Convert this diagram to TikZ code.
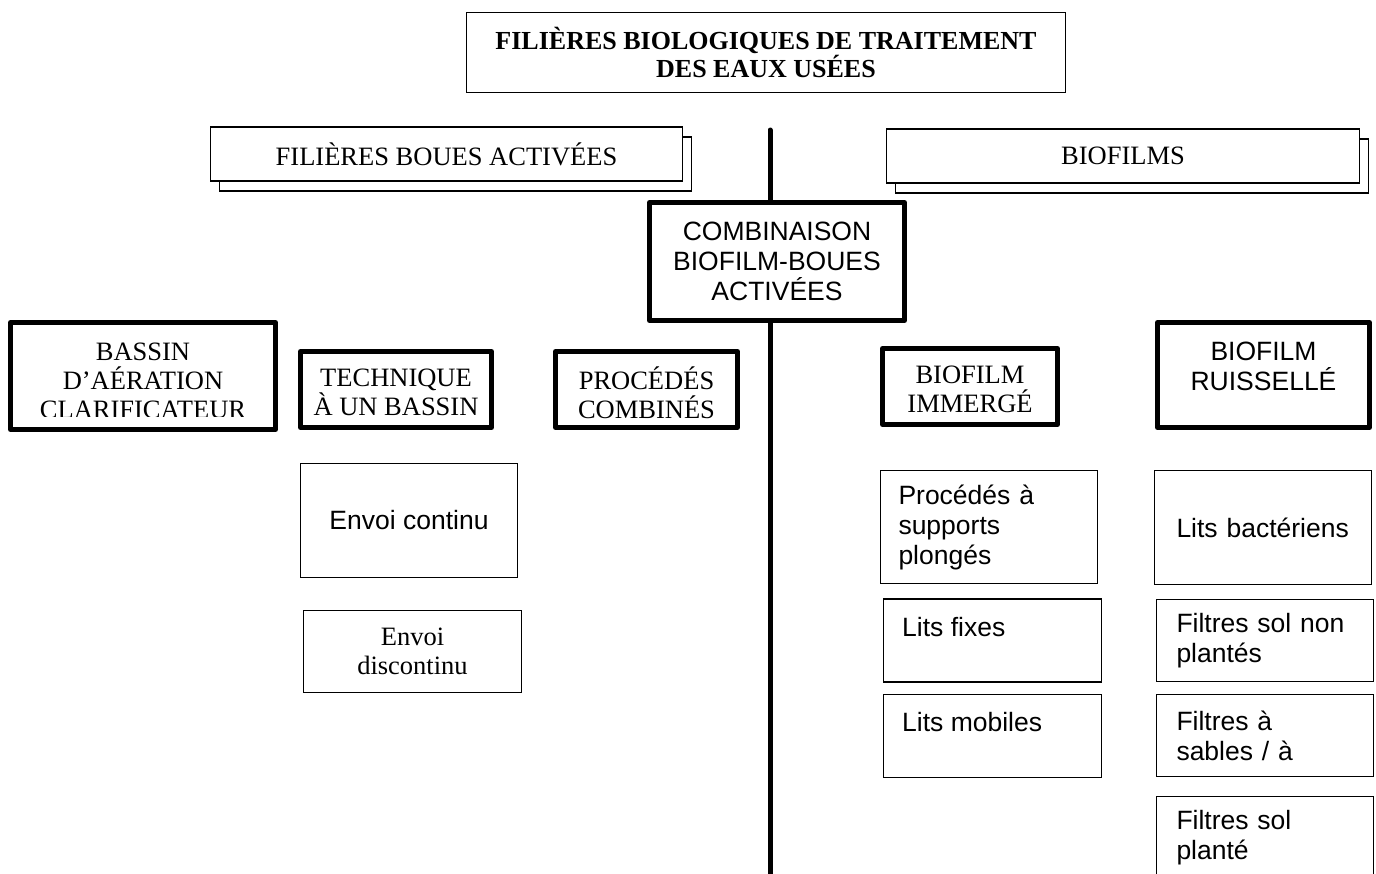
\documentclass[tikz,border=0pt]{standalone}
\usepackage{fontspec}
\setmainfont{Liberation Serif}
\setsansfont{Liberation Sans}
\usetikzlibrary{shadows}
\tikzset{
    tim/.style={font=\fontsize{26.5}{29}\selectfont\rmfamily},
    ari/.style={font=\fontsize{26.5}{30}\selectfont\sffamily},
    cadre/.style={draw, line width=1.4pt, fill=white, inner sep=0pt},
    cadregras/.style={draw, line width=5pt, line join=round, fill=white, inner sep=0pt},
    ombre/.style={copy shadow={shadow xshift=9pt, shadow yshift=-10pt, line width=1.4pt}},
    axe/.style={line width=5pt, line cap=round},
}
\begin{document}
\begin{tikzpicture}[x=1pt,y=-1pt]
        \useasboundingbox (0,0) rectangle (1376,873);
        \clip (0,0) rectangle (1376,873);
        \node[cadre, tim, font=\fontsize{26}{28}\selectfont\bfseries, align=center, minimum width=599, minimum height=80] (titre) at (766,52.5) {FILIÈRES BIOLOGIQUES DE TRAITEMENT\\DES EAUX USÉES};
        \foreach \x/\y/\w/\n/\l in {446.5/154/472/boues/{FILIÈRES BOUES ACTIVÉES},1123/156/473/biofilms/BIOFILMS}{
            \node[cadre, ombre, tim, minimum width=\w, minimum height=54] (\n) at (\x,\y) {\l};
        }
        % boites a bord epais
        \foreach \x/\y/\w/\h/\n/\l in {396/389.5/191/76/tech/{TECHNIQUE\\À UN BASSIN},646.5/389.5/182/76/proc/{PROCÉDÉS\\COMBINÉS},970/386.5/175/76/immerge/{BIOFILM\\IMMERGÉ}}{
            \node[cadregras, minimum width=\w, minimum height=\h] (\n) at (\x,\y) {};
            \node[tim, align=center] (\n txt) at (\x,\y+3) {\l};
        }
        \node[cadregras, ari, align=center, minimum width=255, minimum height=118] (comb) at (777,261.5) {COMBINAISON\\BIOFILM-BOUES\\ACTIVÉES};
        \node[cadregras, minimum width=265, minimum height=107] (bassin) at (143,376) {};
        \begin{scope}
            \clip (14,324) rectangle (274,416);
            \node[tim, align=center] (bassintxt) at (143,381) {BASSIN\\D’AÉRATION\\CLARIFICATEUR};
        \end{scope}
        \node[cadregras, minimum width=212, minimum height=105] (ruiss) at (1263.5,375) {};
        \node[ari, align=center] (ruisstxt) at (1263.5,366) {BIOFILM\\RUISSELLÉ};
        % boites a bord fin
        \node[cadre, ari, minimum width=217, minimum height=114] (envc) at (409,520.5) {Envoi continu};
        \node[cadre, tim, align=center, minimum width=218, minimum height=82] (envd) at (412.5,651.5) {Envoi\\discontinu};
        \foreach \x/\y/\w/\h/\s/\n/\l in {989/527/217/113/18/supp/{Procédés à\\supports\\plongés},1263/527.5/217/114/22/bact/{Lits bactériens},1265/640.5/217/82/20/nonpl/{Filtres sol non\\plantés},1265/735.5/217/82/20/sables/{Filtres à\\sables / à},1265/838/217/83/20/plante/{Filtres sol\\planté}}{
            \node[cadre, ari, align=left, inner xsep=\s, text width=\w-2*\s, minimum height=\h] (\n) at (\x,\y) {\l};
        }
        \foreach \x/\y/\n/\l in {992.5/640.5/fixes/{Lits fixes},992.5/736/mobiles/{Lits mobiles}}{
            \node[cadre, minimum width=218, minimum height=83] (\n) at (\x,\y) {};
            \node[ari, anchor=west, inner sep=0pt] (\n txt) at (902,\y-13.5) {\l};
        }
        \coordinate (haut) at (770,130);
        \coordinate (bas) at (770,880);
        \draw[axe] (haut) -- (haut |- comb.north);
        \draw[axe] (haut |- comb.south) -- (bas);
\end{tikzpicture}
\end{document}
